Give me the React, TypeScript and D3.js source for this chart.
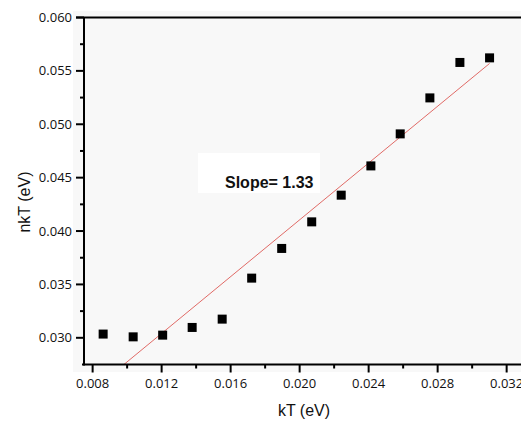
import React from "react";
import * as d3 from "d3";

const kT = [0.00861, 0.01035, 0.01206, 0.01377, 0.01551, 0.01722, 0.01896, 0.0207, 0.02241, 0.02413, 0.02583, 0.02755, 0.02929, 0.03101];
const nkT = [0.03035, 0.03009, 0.03025, 0.03097, 0.03175, 0.03559, 0.03837, 0.04086, 0.04336, 0.0461, 0.0491, 0.05247, 0.05579, 0.05622];
const fitSlope = 1.33;
const fitIntercept = 0.01445;
const fitRange = [0.00861, 0.03101];
const xTicks = [0.008, 0.012, 0.016, 0.02, 0.024, 0.028, 0.032];
const xMinor = [0.01, 0.014, 0.018, 0.022, 0.026, 0.03];
const yTicks = [0.03, 0.035, 0.04, 0.045, 0.05, 0.055, 0.06];
const yMinor = [0.0325, 0.0375, 0.0425, 0.0475, 0.0525, 0.0575];
const slopeLabel = "Slope= 1.33";

export default function App() {
  const W = 521, H = 423;
  const x = d3.scaleLinear().domain([0.0075, 0.033]).range([84, 523.9]);
  const y = d3.scaleLinear().domain([0.0275, 0.06]).range([364.5, 17.5]);
  const fmt = d3.format(".3f");
  const line = d3.line<number>().x((d) => x(d)).y((d) => y(fitSlope * d + fitIntercept));
  const tickFont = "'Open Sans', sans-serif";
  const bottom = y.range()[0];
  const top = y.range()[1];
  return (
    <svg width={W} height={H} style={{ display: "block", position: "absolute", left: 0, top: 0 }}>
      <rect x={0} y={0} width={W} height={H} fill="#fff" />
      <rect x={73} y={11} width={W - 73} height={361} fill="#f8f8f8" />
      <rect x={198} y={153} width={122} height={40} fill="#ffffff" />
      <text x={225} y={188} fontFamily="'Liberation Sans', Arial, sans-serif" fontWeight="bold" fontSize={16} fill="#111">{slopeLabel}</text>
      <defs>
        <clipPath id="plotclip">
          <rect x={x.range()[0]} y={top} width={W - x.range()[0]} height={bottom - top} />
        </clipPath>
      </defs>
      <path d={line(fitRange) || ""} stroke="#e06a66" strokeWidth={1} fill="none" clipPath="url(#plotclip)" />
      {kT.map((v, i) => (
        <rect key={i} x={x(v) - 4.5} y={y(nkT[i]) - 4.5} width={9} height={9} fill="#000" />
      ))}
      {/* axes */}
      <line x1={84} x2={84} y1={top} y2={bottom + 1} stroke="#000" strokeWidth={2} />
      <line x1={76} x2={W} y1={top} y2={top} stroke="#000" strokeWidth={2} />
      <line x1={82} x2={W} y1={bottom} y2={bottom} stroke="#000" strokeWidth={2} />
      {yTicks.map((t) => (
        <g key={"y" + t}>
          <line x1={76} x2={84} y1={y(t)} y2={y(t)} stroke="#000" strokeWidth={2} />
          <text x={72} y={y(t)} dy="0.35em" textAnchor="end" fontFamily={tickFont} fontSize={13} fill="#111">{fmt(t)}</text>
        </g>
      ))}
      {yMinor.map((t) => (
        <line key={"ym" + t} x1={80} x2={84} y1={y(t)} y2={y(t)} stroke="#000" strokeWidth={2} />
      ))}
      {xTicks.map((t) => (
        <g key={"x" + t}>
          <line x1={x(t)} x2={x(t)} y1={bottom} y2={bottom + 8} stroke="#000" strokeWidth={2} />
          <text x={x(t)} y={383} dy="0.35em" textAnchor="middle" fontFamily={tickFont} fontSize={13} fill="#111">{fmt(t)}</text>
        </g>
      ))}
      {xMinor.map((t) => (
        <line key={"xm" + t} x1={x(t)} x2={x(t)} y1={bottom} y2={bottom + 4} stroke="#000" strokeWidth={2} />
      ))}
      <text x={304} y={410} dy="0.35em" textAnchor="middle" fontFamily="'Liberation Sans', Arial, sans-serif" fontSize={16} fill="#111">kT (eV)</text>
      <text transform="translate(24,202) rotate(-90)" dy="0.35em" textAnchor="middle" fontFamily="'Liberation Sans', Arial, sans-serif" fontSize={16} fill="#111">nkT (eV)</text>
    </svg>
  );
}
